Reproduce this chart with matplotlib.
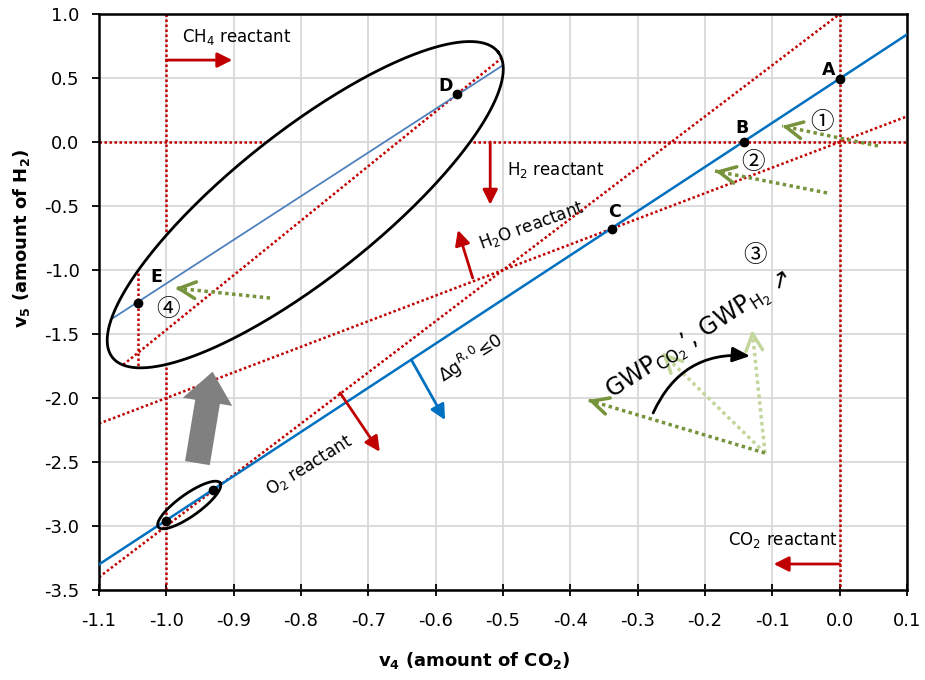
import numpy as np
import matplotlib.pyplot as plt
from matplotlib.patches import FancyArrowPatch

plt.rcParams["font.family"] = ["DejaVu Sans"]
plt.rcParams["mathtext.fontset"] = "dejavusans"

# --- values ---
x_ticks = np.round(np.arange(-1.1, 0.11, 0.1), 1)
y_ticks = np.arange(-3.5, 1.01, 0.5)

# dg^R,0 = 0 boundary
dg_x = [-1.1, 0.1]
dg_y = [-3.30, 0.84]
# O2 reactant boundary
o2_x = [-1.1, 0.0]
o2_y = [-3.40, 1.00]
# H2O reactant boundary
h2o_x = [-1.1, 0.1]
h2o_y = [-2.20, 0.20]
# H2 reactant boundary (v5 = 0), broken by the big ellipse
h2_x = [[-1.1, -0.853], [-0.544, 0.1]]
h2_y = [[0.0, 0.0], [0.0, 0.0]]
# CH4 reactant boundary (v4 = -1), broken by the big ellipse
ch4_x = [[-1.0, -1.0], [-1.0, -1.0]]
ch4_y = [[1.0, -0.71], [-1.76, -3.5]]
# CO2 reactant boundary (v4 = 0)
co2_x = [0.0, 0.0]
co2_y = [1.0, -3.5]

# magnified view drawn inside the big ellipse
zoom_dg_x = [-1.079, -0.500]
zoom_dg_y = [-1.375, 0.600]
zoom_o2_x = [-1.064, -0.501]
zoom_o2_y = [-1.74, 0.66]
zoom_ch4_x = [-1.042, -1.042]
zoom_ch4_y = [-1.02, -1.76]

# marked points
pt_x = [0.0, -0.142, -0.338, -0.568, -1.042, -1.0, -0.93]
pt_y = [0.49, 0.0, -0.676, 0.375, -1.255, -2.96, -2.72]
pt_names = ["A", "B", "C", "D", "E"]
name_x = [-0.017, -0.145, -0.335, -0.586, -1.015]
name_y = [0.56, 0.11, -0.55, 0.44, -1.055]

RED = "#C00000"
BLUE = "#0070C0"
GREEN = "#77933C"
LGREEN = "#C3D69B"

fig = plt.figure(figsize=(9.25, 6.8), dpi=100)
ax = fig.add_axes([99 / 925, 90 / 680, 808 / 925, 576 / 680])
ax.set_xlim(-1.1, 0.1)
ax.set_ylim(-3.5, 1.0)
ax.set_xticks(x_ticks)
ax.set_yticks(y_ticks)
ax.set_xticklabels([f"{v:.1f}" for v in x_ticks])
ax.set_yticklabels([f"{v:.1f}" for v in y_ticks])
ax.tick_params(axis="x", direction="inout", length=8, width=1.3, pad=12, labelsize=13)
ax.tick_params(axis="y", direction="out", length=5, width=1.3, pad=9, labelsize=13)
ax.grid(True, color="#D9D9D9", lw=1.3)
ax.set_axisbelow(True)
for s in ax.spines.values():
    s.set_linewidth(1.8)

ax.set_xlabel(r"$\mathbf{v_4}$ (amount of CO$\mathbf{_2}$)", fontsize=13, fontweight="bold")
ax.set_ylabel(r"$\mathbf{v_5}$ (amount of H$\mathbf{_2}$)", fontsize=13, fontweight="bold")
ax.xaxis.set_label_coords(0.465, -0.105)
ax.yaxis.set_label_coords(-0.083, 0.611)

dots = dict(color=RED, lw=1.8, ls=(0, (1, 1)))

# main lines
ax.plot(dg_x, dg_y, color=BLUE, lw=1.8, zorder=3)
ax.plot(o2_x, o2_y, **dots)
ax.plot(h2o_x, h2o_y, **dots)
for xs, ys in zip(h2_x, h2_y):
    ax.plot(xs, ys, **dots)
for xs, ys in zip(ch4_x, ch4_y):
    ax.plot(xs, ys, **dots)
ax.plot(co2_x, co2_y, **dots)

# magnified view
ax.plot(zoom_dg_x, zoom_dg_y, color="#4F81BD", lw=1.3, zorder=3)
ax.plot(zoom_o2_x, zoom_o2_y, **dots)
ax.plot(zoom_ch4_x, zoom_ch4_y, **dots)

ax.plot(pt_x, pt_y, "o", color="black", ms=6, zorder=5)
for n, x, y in zip(pt_names, name_x, name_y):
    ax.text(x, y, n, fontsize=12.5, fontweight="bold", ha="center", va="center")


def ellipse(center, a_px, b_px, angle):
    # ellipse defined in pixel space so it keeps its shape on the stretched axes
    t = np.linspace(0, 2 * np.pi, 300)
    cx, cy = ax.transData.transform(center)
    th = np.radians(angle)
    px = cx + a_px * np.cos(t) * np.cos(th) - b_px * np.sin(t) * np.sin(th)
    py = cy + a_px * np.cos(t) * np.sin(th) + b_px * np.sin(t) * np.cos(th)
    xy = ax.transData.inverted().transform(np.column_stack([px, py]))
    ax.plot(xy[:, 0], xy[:, 1], color="black", lw=2, zorder=4)


ellipse((-0.7937, -0.4898), 246, 73, 38.4)
ellipse((-0.966, -2.836), 38, 11, 35.5)


def arrow(tail, tip, color, lw=2, style="-|>,head_length=0.6,head_width=0.3", **kw):
    ax.annotate("", xy=tip, xytext=tail,
                arrowprops=dict(arrowstyle=style, color=color, lw=lw, mutation_scale=15,
                                shrinkA=0, shrinkB=0, **kw))


def green_arrow(tail, tip, color):
    ax.plot([tail[0], tip[0]], [tail[1], tip[1]], color=color, lw=2.5, ls=(0, (1, 1)))
    back = (tip[0] + 0.05 * (tail[0] - tip[0]), tip[1] + 0.05 * (tail[1] - tip[1]))
    ax.annotate("", xy=tip, xytext=back,
                arrowprops=dict(arrowstyle="->,head_length=1.2,head_width=0.6", color=color,
                                lw=2.5, mutation_scale=10, shrinkA=0, shrinkB=0))


# reactant arrows and labels
arrow((-1.0, 0.64), (-0.902, 0.64), RED)
ax.text(-0.977, 0.82, r"CH$_4$ reactant", fontsize=12, va="center")
arrow((-0.519, 0.0), (-0.519, -0.49), RED)
ax.text(-0.494, -0.22, r"H$_2$ reactant", fontsize=12, va="center")
arrow((-0.545, -1.0625), (-0.567, -0.6875), RED)
ax.text(-0.457, -0.656, r"H$_2$O reactant", fontsize=12, ha="center", va="center",
        rotation=20, rotation_mode="anchor")
arrow((-0.742, -1.96), (-0.683, -2.42), RED)
ax.text(-0.787, -2.531, r"O$_2$ reactant", fontsize=12, ha="center", va="center",
        rotation=32, rotation_mode="anchor")
arrow((0.0, -3.297), (-0.098, -3.297), RED)
ax.text(-0.003, -3.11, r"CO$_2$ reactant", fontsize=12, ha="right", va="center")
arrow((-0.636, -1.703), (-0.586, -2.172), BLUE)
ax.text(-0.5475, -1.6875, r"$\Delta$g$^{R,0}$≤0", fontsize=12.5, ha="center", va="center",
        rotation=33, rotation_mode="anchor")

# green direction arrows
green_arrow((0.057, -0.031), (-0.0856, 0.125), GREEN)
green_arrow((-0.0188, -0.398), (-0.1851, -0.2266), GREEN)
green_arrow((-0.846, -1.219), (-0.987, -1.141), GREEN)
green_arrow((-0.1109, -2.430), (-0.130, -1.469), LGREEN)
green_arrow((-0.1109, -2.430), (-0.2638, -1.648), LGREEN)
green_arrow((-0.1109, -2.430), (-0.3737, -2.016), GREEN)

circ = ["①", "②", "③", "④"]
circ_x = [-0.026, -0.129, -0.126, -0.998]
circ_y = [0.156, -0.164, -0.89, -1.31]
for c, x, y in zip(circ, circ_x, circ_y):
    ax.text(x, y, c, fontsize=17, ha="center", va="center",
            family=["Noto Sans CJK JP", "DejaVu Sans"])

# rotating GWP arrow and label
arrow((-0.277, -2.117), (-0.133, -1.672), "black",
      style="-|>,head_length=0.7,head_width=0.3", connectionstyle="arc3,rad=-0.35")
ax.text(-0.2080, -1.515, r"GWP$_{\mathrm{CO}_2}$’, GWP$_{\mathrm{H}_2}$ ↗", fontsize=17,
        ha="center", va="center", rotation=33, rotation_mode="anchor")

# big grey arrow pointing to the magnified view
ax.add_patch(FancyArrowPatch((-0.9545, -2.53), (-0.9307, -1.773),
                             arrowstyle="simple,head_length=22,head_width=36,tail_width=18",
                             mutation_scale=1, color="#808080", lw=0, zorder=4))

fig.savefig("out.png", dpi=100)
